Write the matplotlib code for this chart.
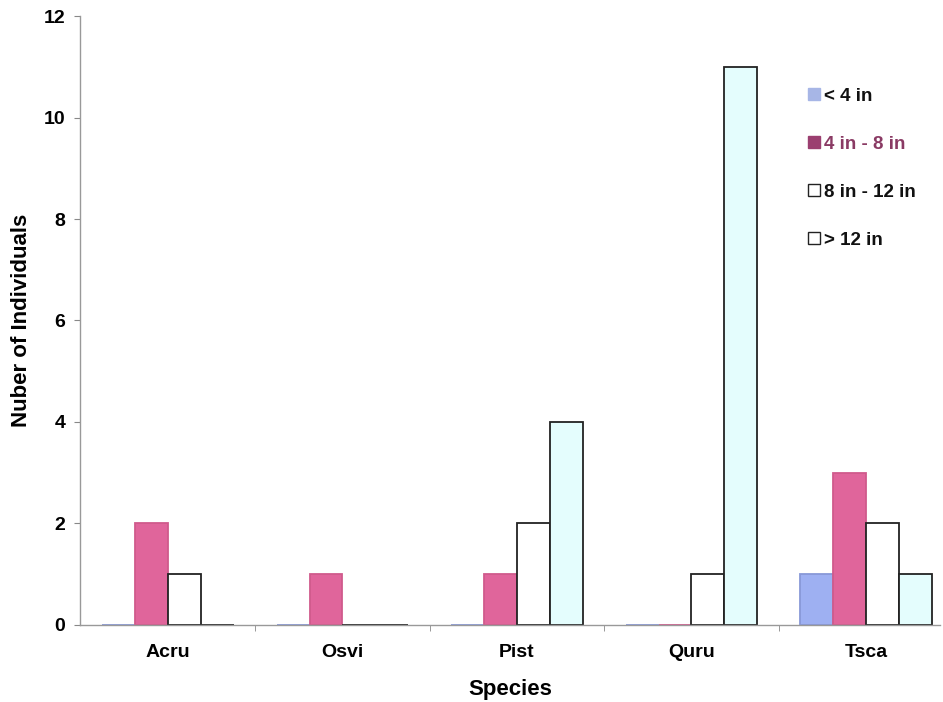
import matplotlib
matplotlib.use("Agg")
import matplotlib.pyplot as plt
from matplotlib.patches import Patch
import numpy as np

species = ["Acru", "Osvi", "Pist", "Quru", "Tsca"]
size_classes = ["< 4 in", "4 in - 8 in", "8 in - 12 in", "> 12 in"]
under_4 = [0, 0, 0, 0, 1]
from_4_to_8 = [2, 1, 1, 0, 3]
from_8_to_12 = [1, 0, 2, 1, 2]
over_12 = [0, 0, 4, 11, 1]
y_ticks = [0, 2, 4, 6, 8, 10, 12]

series = [under_4, from_4_to_8, from_8_to_12, over_12]
bar_faces = ["#9eb0f2", "#e0659b", "#ffffff", "#e4fdfd"]
bar_edges = ["#8898d8", "#d05a8c", "#222222", "#222222"]
legend_faces = ["#a7b6e6", "#9b3f70", "#ffffff", "#ffffff"]
legend_text_colors = ["#111111", "#8a3a64", "#111111", "#111111"]

plt.rcParams["font.family"] = ["Liberation Sans", "DejaVu Sans"]

fig = plt.figure(figsize=(9.43, 7.02), dpi=100)
ax = fig.add_axes([0.0848, 0.1097, 0.912, 0.8675])

x = np.arange(len(species))
width = 0.188
for i, vals in enumerate(series):
    ax.bar(x + (i - 1.5) * width, vals, width=width, color=bar_faces[i],
           edgecolor=bar_edges[i], linewidth=1.3, align="center", zorder=2)

ax.set_xlim(-0.504, 4.424)
ax.set_ylim(0, 12)
ax.set_yticks(y_ticks)
ax.set_yticklabels([str(t) for t in y_ticks], fontsize=14, fontweight="bold")

ax.set_xticks(x)
ax.set_xticklabels(species, fontsize=14, fontweight="bold")
ax.tick_params(axis="x", length=0, pad=14)
# small separators between the species groups
ax.set_xticks(x[:-1] + 0.5, minor=True)
ax.tick_params(axis="x", which="minor", length=4, color="#888888")
ax.tick_params(axis="y", length=4, color="#888888", pad=6.5)

for side in ["top", "right"]:
    ax.spines[side].set_visible(False)
for side in ["left", "bottom"]:
    ax.spines[side].set_color("#999999")
    ax.spines[side].set_linewidth(1.0)

ax.set_xlabel("Species", fontsize=16, fontweight="bold", labelpad=13)
ax.set_ylabel("Nuber of Individuals", fontsize=16, fontweight="bold")
ax.yaxis.set_label_coords(-0.0558, 0.5)

handles = [Patch(facecolor=legend_faces[i],
                 edgecolor="#222222" if i >= 2 else legend_faces[i],
                 linewidth=1.0) for i in range(4)]
leg = ax.legend(handles, size_classes, loc="upper left", bbox_to_anchor=(0.827, 0.91),
                frameon=False, handlelength=0.65, handleheight=0.65, handletextpad=0.2,
                labelspacing=1.65, prop={"weight": "bold", "size": 13.5})
for txt, col in zip(leg.get_texts(), legend_text_colors):
    txt.set_color(col)

fig.savefig("out.png", dpi=100)
